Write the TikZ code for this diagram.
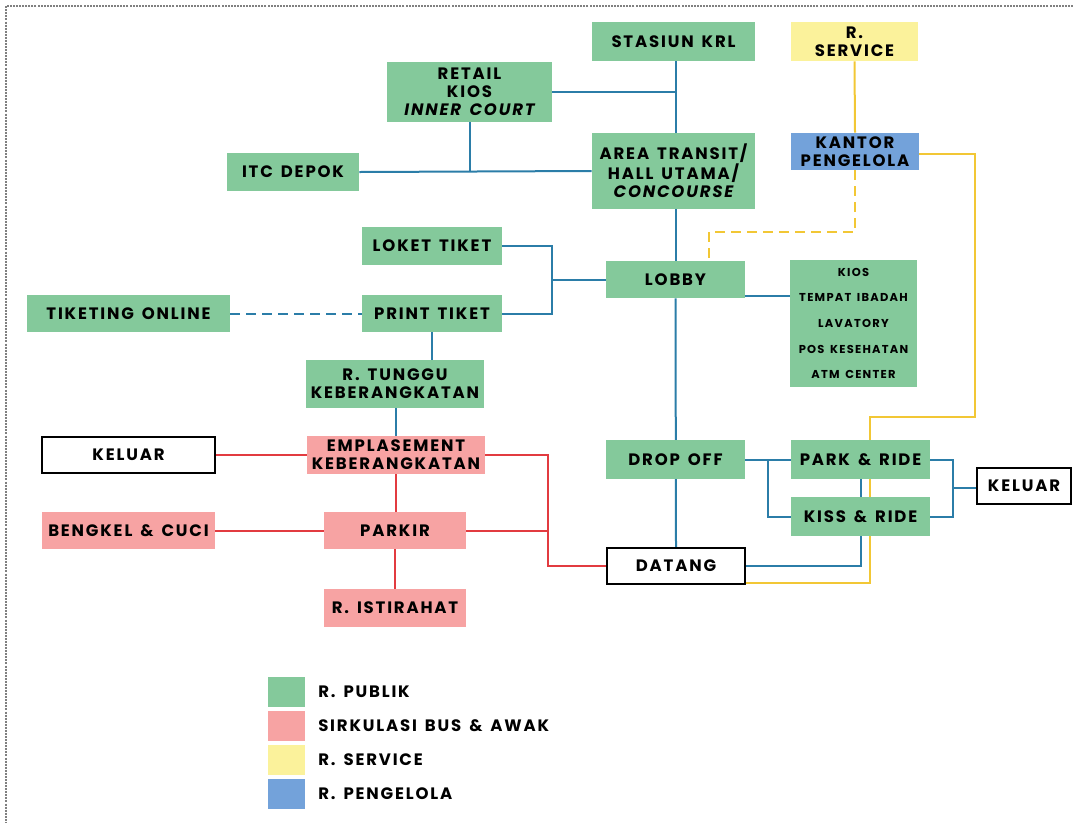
\documentclass[tikz,border=0pt]{standalone}
\usepackage{fontspec}
\setmainfont{Poppins}[LetterSpace=11, WordSpace=1.5]
\usetikzlibrary{backgrounds}
\definecolor{gr}{HTML}{84C99B}
\definecolor{pk}{HTML}{F7A3A3}
\definecolor{yl}{HTML}{FBF29B}
\definecolor{bl}{HTML}{73A2DA}
\definecolor{lb}{HTML}{2B7DA8}
\definecolor{lr}{HTML}{E23B40}
\definecolor{ly}{HTML}{F2C735}
\newcommand\mkbox[7]{\node[#2, minimum width={(#5-#3)*0.75pt}, minimum height={(#6-#4)*0.75pt}] (#1) at ({(#3+#5)/2},{(#4+#6)/2}) {#7};}
\begin{document}
\begin{tikzpicture}[x=0.75pt,y=-0.75pt,
  box/.style={rectangle, inner sep=0pt, align=center, font=\fontsize{12.4}{13.5}\selectfont\bfseries},
  gbox/.style={box, fill=gr}, pbox/.style={box, fill=pk}, ybox/.style={box, fill=yl},
  bbox/.style={box, fill=bl}, wbox/.style={box, fill=white, draw=black, line width=1.6pt},
  bline/.style={draw=lb, line width=1.5pt},
  rline/.style={draw=lr, line width=1.5pt},
  yline/.style={draw=ly, line width=1.5pt},
  dline/.style={dash pattern=on 7pt off 5pt},
  legtxt/.style={anchor=west, inner sep=0pt, font=\fontsize{12.4}{13.5}\selectfont\bfseries}]
\useasboundingbox (0,0) rectangle (1073,822);
\draw[gray, line width=0.8pt, dash pattern=on 1.5pt off 0.8pt] (1073,6) -- (6,6) -- (6,822);

\mkbox{krl}{gbox}{592}{22}{755}{61}{STASIUN KRL}
\mkbox{srv}{ybox}{791}{22}{918}{61}{R.\\SERVICE}
\mkbox{ret}{gbox}{387}{62}{552}{122}{RETAIL\\KIOS\\\itshape INNER COURT}
\mkbox{area}{gbox}{592}{133}{755}{209}{AREA TRANSIT/\\HALL UTAMA/\\\itshape CONCOURSE}
\mkbox{kan}{bbox}{791}{133}{919}{170}{KANTOR\\PENGELOLA}
\mkbox{itc}{gbox}{227}{153}{359}{191}{ITC DEPOK}
\mkbox{lok}{gbox}{362}{227}{502}{265}{LOKET TIKET}
\mkbox{lob}{gbox}{606}{261}{745}{298}{LOBBY}
\mkbox{kios}{gbox, font=\fontsize{8.6}{19.2}\selectfont\bfseries}{790}{260}{917}{387}{KIOS\\TEMPAT IBADAH\\LAVATORY\\POS KESEHATAN\\ATM CENTER}
\mkbox{tik}{gbox}{27}{295}{230}{332}{TIKETING ONLINE}
\mkbox{prt}{gbox}{362}{295}{502}{332}{PRINT TIKET}
\mkbox{tun}{gbox}{306}{360}{484}{408}{R. TUNGGU\\KEBERANGKATAN}
\mkbox{kelA}{wbox, line width=2.2pt}{42}{437}{215}{473}{KELUAR}
\mkbox{emp}{pbox}{307}{436}{485}{474}{EMPLASEMENT\\KEBERANGKATAN}
\mkbox{drop}{gbox}{606}{440}{745}{479}{DROP OFF}
\mkbox{park}{gbox}{791}{440}{930}{479}{PARK \& RIDE}
\mkbox{kiss}{gbox}{791}{497}{930}{536}{KISS \& RIDE}
\mkbox{kelB}{wbox}{977}{468}{1071}{504}{KELUAR}
\mkbox{ben}{pbox}{42}{512}{215}{549}{BENGKEL \& CUCI}
\mkbox{par}{pbox}{324}{512}{466}{549}{PARKIR}
\mkbox{dat}{wbox}{607}{548}{745}{584}{DATANG}
\mkbox{ist}{pbox}{324}{589}{466}{627}{R. ISTIRAHAT}

% legend
\mkbox{lgA}{box, fill=gr}{268}{677}{305}{707}{}
\mkbox{lgB}{box, fill=pk}{268}{711}{305}{741}{}
\mkbox{lgC}{box, fill=yl}{268}{745}{305}{775}{}
\mkbox{lgD}{box, fill=bl}{268}{779}{305}{809}{}
\node[legtxt] (ltA) at (318,692) {R. PUBLIK};
\node[legtxt] (ltB) at (318,726) {SIRKULASI BUS \& AWAK};
\node[legtxt] (ltC) at (318,760) {R. SERVICE};
\node[legtxt] (ltD) at (318,794) {R. PENGELOLA};

\coordinate (jt) at (552,280);
\coordinate (jd) at (768,459);
\coordinate (jk) at (953,488);
\coordinate (jr) at (548,456);
\coordinate (yd) at (709,232);
\coordinate (y1) at (975,417);
\coordinate (y2) at (870,417);

\begin{scope}[on background layer]
% blue
\draw[bline] (krl.south -| lob.north) -- (lob.north);
\draw[bline] (lob.south) -- (dat.north);
\draw[bline] (ret.east) -- (ret.east -| lob.north);
\draw[bline] (ret.south) -- (ret.south |- itc.east);
\draw[bline] (itc.east) -- (area.west);
\draw[bline] (lok.east) -| (jt) |- (prt.east);
\draw[bline] (jt) -- (jt -| lob.west);
\draw[bline] ([yshift=1.5pt]lob.south east) coordinate (lk) -- (lk -| kios.west);
\draw[bline, dline] (tik.east) -- (prt.west);
\draw[bline] (prt.south) -- (prt.south |- tun.north);
\draw[bline] (tun.south -| emp.north) -- (emp.north);
\draw[bline] (drop.east) -- (park.west);
\draw[bline] (jd) |- (kiss.west);
\draw[bline] (park.south) -- (kiss.north);
\draw[bline] (kiss.south) |- (dat.east);
\draw[bline] (park.east) -| (jk) |- (kiss.east);
\draw[bline] (jk) -- (jk -| kelB.west);
% red
\draw[rline] (kelA.east) -- (emp.west);
\draw[rline] (emp.south) -- (emp.south |- par.north);
\draw[rline] (par.south) -- (ist.north);
\draw[rline] (ben.east) -- (par.west);
\draw[rline] (emp.east) -| (jr) |- (dat.west);
\draw[rline] (par.east) -- (par.east -| jr);
% yellow
\draw[yline] (srv.south) -- (kan.north);
\draw[yline, dline] (kan.south) |- (yd) -- (yd |- lob.north);
\draw[yline] ([yshift=-2pt]kan.east) coordinate (ke) -| (y1) -- (y2) |- ([yshift=1.5pt]dat.south east);
\end{scope}
\end{tikzpicture}
\end{document}
